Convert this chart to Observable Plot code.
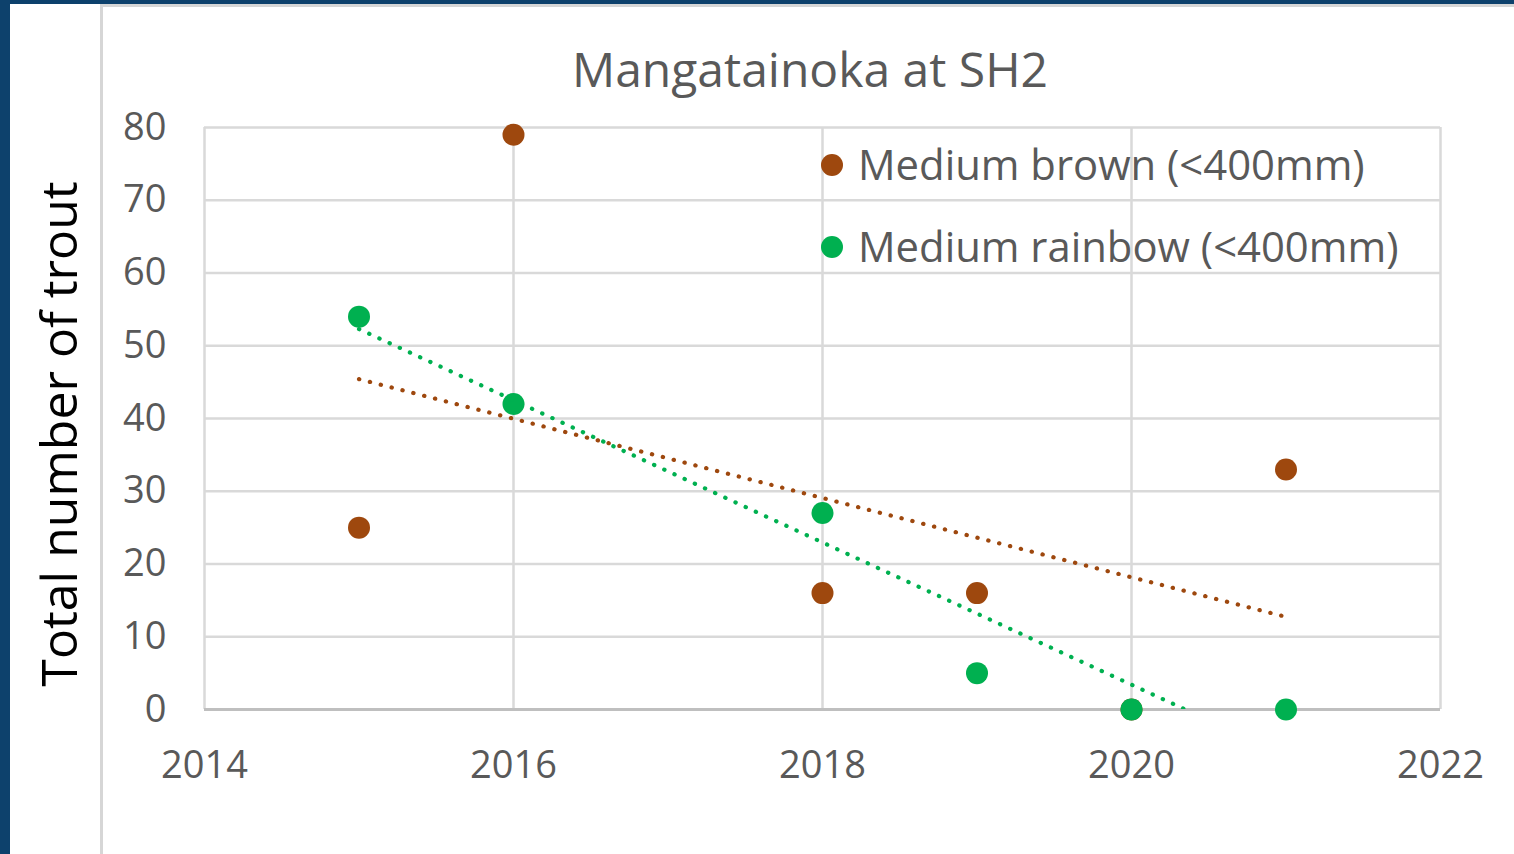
<!DOCTYPE html>
<html>
<head>
<meta charset="utf-8">
<script src="https://cdn.jsdelivr.net/npm/d3@7"></script>
<script src="https://cdn.jsdelivr.net/npm/@observablehq/plot@0.6"></script>
<style>
  html, body { margin: 0; padding: 0; background: #fff; }
  #wrap { position: relative; width: 1514px; height: 854px; overflow: hidden; background: #fff; font-family: "Open Sans", sans-serif; }
  #chart, #overlay { position: absolute; left: 0; top: 0; }
</style>
</head>
<body>
<div id="wrap">
  <div id="chart"></div>
  <svg id="overlay" width="1514" height="854"></svg>
</div>
<script>
// ---- data ----
const years = [2015, 2016, 2018, 2019, 2020, 2021];
const brownTrout = [25, 79, 16, 16, 0, 33];
const rainbowTrout = [54, 42, 27, 5, 0, 0];
const seriesNames = ["Medium brown (<400mm)", "Medium rainbow (<400mm)"];
const seriesColors = ["#9e480e", "#00b050"];
const xTicks = [2014, 2016, 2018, 2020, 2022];
const yTicks = [0, 10, 20, 30, 40, 50, 60, 70, 80];
const chartTitle = "Mangatainoka at SH2";
const yTitle = "Total number of trout";

const rows = [
  ...years.map((x, i) => ({ year: x, count: brownTrout[i], series: seriesNames[0] })),
  ...years.map((x, i) => ({ year: x, count: rainbowTrout[i], series: seriesNames[1] }))
];

const grid = "#d9d9d9";
const tickColor = "#595959";

const chart = Plot.plot({
  width: 1514,
  height: 854,
  marginLeft: 204,
  marginRight: 74,
  marginTop: 127,
  marginBottom: 145,
  x: { domain: [2014, 2022] },
  y: { domain: [0, 80] },
  color: { domain: seriesNames, range: seriesColors },
  style: { fontFamily: "'Open Sans', sans-serif", fontSize: "38px", color: tickColor, background: "transparent", overflow: "visible" },
  marks: [
    Plot.gridX(xTicks, { stroke: grid, strokeOpacity: 1, strokeWidth: 2.5 }),
    Plot.gridY(yTicks.filter(d => d > 0), { stroke: grid, strokeOpacity: 1, strokeWidth: 2.5 }),
    Plot.ruleY([0], { stroke: "#bfbfbf", strokeWidth: 3 }),
    Plot.axisX(xTicks, { tickSize: 0, tickPadding: 42, tickFormat: d => String(d), label: null, fill: tickColor }),
    Plot.axisY(yTicks, { tickSize: 0, tickPadding: 38, label: null, fill: tickColor }),
    Plot.dot(rows, { x: "year", y: "count", fill: "series", r: 11 }),
    Plot.linearRegressionY(rows, {
      x: "year", y: "count", stroke: "series", ci: 0,
      strokeWidth: 4.2, strokeDasharray: "0.3,10.9", strokeLinecap: "round", clip: true
    })
  ]
});
document.getElementById("chart").appendChild(chart);

// ---- decorations, title, legend, y-title ----
const svg = d3.select("#overlay");
svg.append("rect").attr("x", 0).attr("y", 0).attr("width", 1514).attr("height", 4).attr("fill", "#0d416c");
svg.append("rect").attr("x", 0).attr("y", 0).attr("width", 10).attr("height", 854).attr("fill", "#0d416c");
svg.append("rect").attr("x", 100).attr("y", 4).attr("width", 1414).attr("height", 3).attr("fill", "#d6d6d6");
svg.append("rect").attr("x", 100).attr("y", 4).attr("width", 3).attr("height", 850).attr("fill", "#d6d6d6");

svg.append("text").text(chartTitle)
  .attr("x", 810).attr("y", 87).attr("text-anchor", "middle")
  .attr("font-family", "'Open Sans', sans-serif").attr("font-size", 48).attr("fill", tickColor);

svg.append("text").text(yTitle)
  .attr("transform", "translate(77,434) rotate(-90)").attr("text-anchor", "middle")
  .attr("font-family", "'Open Sans', sans-serif").attr("font-size", 50).attr("fill", "#000");

const legend = svg.append("g");
seriesNames.forEach((name, i) => {
  const cy = 165 + i * 82;
  legend.append("circle").attr("cx", 832).attr("cy", cy).attr("r", 11).attr("fill", seriesColors[i]);
  legend.append("text").text(name).attr("x", 858).attr("y", cy + 15)
    .attr("font-family", "'Open Sans', sans-serif").attr("font-size", 41.8).attr("fill", tickColor);
});
</script>
</body>
</html>
